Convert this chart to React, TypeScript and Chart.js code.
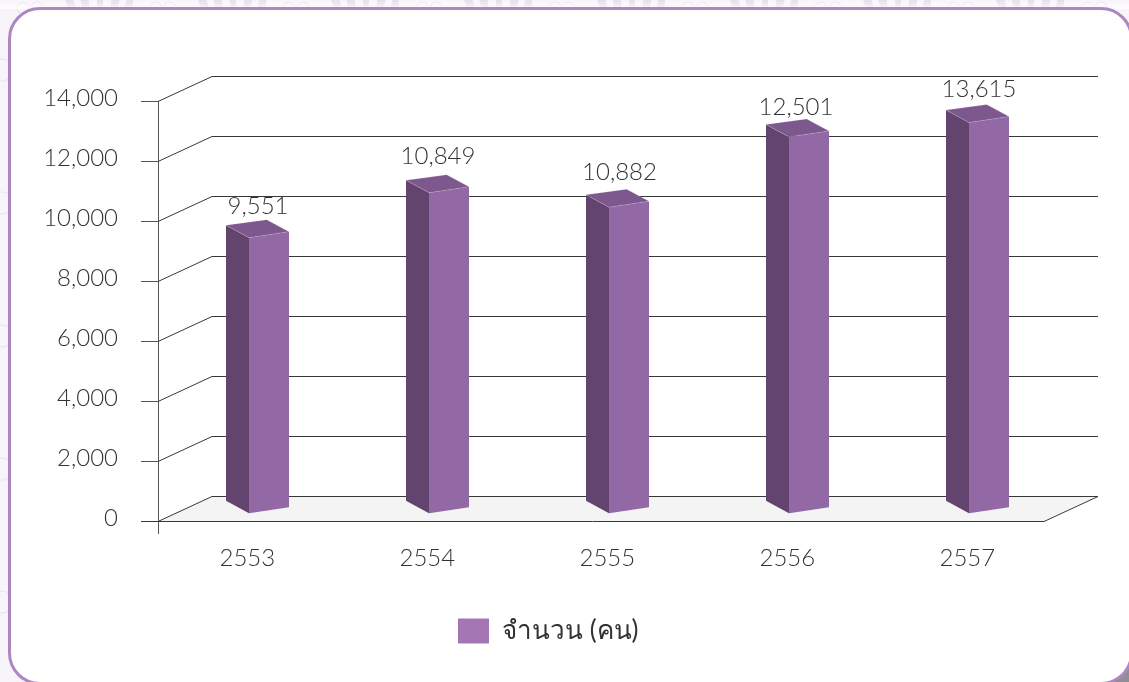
import React, { useEffect, useRef } from "react";
import { Chart, registerables } from "chart.js";

Chart.register(...registerables);

const years = ["2553", "2554", "2555", "2556", "2557"];
// Bar heights as drawn in the picture; they do not all agree with the printed labels.
const barHeights = [9585, 11145, 10640, 13080, 13580];
// Numbers as printed above the bars.
const printedLabels = ["9,551", "10,849", "10,882", "12,501", "13,615"];
const seriesName = "จำนวน (คน)";
const yTicks = [0, 2000, 4000, 6000, 8000, 10000, 12000, 14000];

const INK = "#333333";
const FONT = "Lato, 'Noto Sans', sans-serif";
const DEPTH_X = 54;
const DEPTH_Y = 25;
// Labels were placed by hand in the original: small per-label nudges from the bar's front corner.
const labelNudges = [[9, -31.5], [9, -36], [10.5, -35], [7, -30], [10, -33.5]];
const fmt = (v: number) => v.toLocaleString("en-US");

const poly = (ctx: CanvasRenderingContext2D, pts: number[][], fill: string, stroke?: string) => {
  ctx.beginPath();
  pts.forEach((p, i) => (i ? ctx.lineTo(p[0], p[1]) : ctx.moveTo(p[0], p[1])));
  ctx.closePath();
  ctx.fillStyle = fill;
  ctx.fill();
  if (stroke) {
    ctx.strokeStyle = stroke;
    ctx.lineWidth = 0.6;
    ctx.stroke();
  }
};

const frontCorner = (el: any) => ({
  x: el.x + 1,
  y: el.base - 7.3 - (el.base - el.y) * 0.96,
});

const scene = {
  id: "scene3d",
  afterLayout(chart: any) {
    const lg = chart.legend;
    const w = lg.right - lg.left;
    const h = lg.bottom - lg.top;
    lg.left = 448;
    lg.right = 448 + w;
    lg.top = 608;
    lg.bottom = 608 + h;
  },
  beforeDatasetsDraw(chart: any) {
    const { ctx } = chart;
    const y = chart.scales.y;
    const x0 = chart.chartArea.left;
    const x1 = chart.chartArea.right - 14;
    const base = y.getPixelForValue(0);
    ctx.save();
    poly(ctx, [[x0, base], [x0 + DEPTH_X, base - DEPTH_Y], [x1 + DEPTH_X, base - DEPTH_Y], [x1, base]], "#f4f4f4");
    ctx.strokeStyle = "#383838";
    ctx.lineWidth = 1;
    yTicks.forEach((v) => {
      const py = Math.round(y.getPixelForValue(v)) + 0.5;
      ctx.beginPath();
      ctx.moveTo(x0, py);
      ctx.lineTo(x0 + DEPTH_X, py - DEPTH_Y);
      ctx.lineTo(x1 + DEPTH_X, py - DEPTH_Y);
      if (v === 0) ctx.lineTo(x1, py);
      ctx.stroke();
    });
    ctx.beginPath();
    ctx.moveTo(x0 - 17, Math.round(base) + 0.5);
    ctx.lineTo(x1, Math.round(base) + 0.5);
    ctx.stroke();
    ctx.restore();
  },
  beforeDatasetDraw(chart: any, args: any) {
    const { ctx } = chart;
    const meta = chart.getDatasetMeta(args.index);
    ctx.save();
    meta.data.forEach((el: any) => {
      const f = frontCorner(el);
      const by = el.base - 7.3;
      const lx = el.x - 22;
      const rx = el.x + 41;
      const bx = el.x + 18.7;
      poly(ctx, [[lx, f.y - 12.5], [f.x, f.y], [f.x, by], [lx, by - 12.5]], "#62446e");
      poly(ctx, [[f.x, f.y], [rx, f.y - 6], [rx, by - 6], [f.x, by]], "#9268a5");
      poly(ctx, [[lx, f.y - 12.5], [bx, f.y - 18], [rx, f.y - 6], [f.x, f.y]], "#7d588e", "rgba(255,255,255,0.28)");
    });
    ctx.restore();
    return false;
  },
  afterDatasetsDraw(chart: any) {
    const { ctx } = chart;
    const meta = chart.getDatasetMeta(0);
    ctx.save();
    ctx.font = `300 24px ${FONT}`;
    ctx.fillStyle = INK;
    ctx.textAlign = "center";
    ctx.textBaseline = "middle";
    meta.data.forEach((el: any, i: number) => {
      const f = frontCorner(el);
      ctx.fillText(printedLabels[i], f.x + labelNudges[i][0], f.y + labelNudges[i][1]);
    });
    ctx.restore();
  },
};

function Backdrop() {
  const leaves = [-30, -15, 0, 15, 30];
  return (
    <svg width={1129} height={682} style={{ position: "absolute", left: 0, top: 0 }}>
      <defs>
        <pattern id="orn" x={0} y={0} width={133} height={133} patternUnits="userSpaceOnUse">
          <g transform="translate(100,0)" fill="#e7dded">
            {leaves.map((o, i) => (
              <ellipse key={o} cx={o} cy={2} rx={i === 2 ? 3 : 4} ry={12} transform={`rotate(${o * 0.7} ${o} 2)`} />
            ))}
          </g>
          <g fill="none" stroke="#ebe3f0" strokeWidth={1.2}>
            <circle cx={23} cy={8} r={6} />
            <circle cx={37} cy={8} r={6} />
            <circle cx={2} cy={70} r={11} />
          </g>
        </pattern>
        <linearGradient id="strip" x1="0" y1="0" x2="0" y2="1">
          <stop offset="0" stopColor="#ffffff" stopOpacity={0} />
          <stop offset="1" stopColor="#ffffff" stopOpacity={0.75} />
        </linearGradient>
      </defs>
      <rect width={1129} height={682} fill="#f8f5fa" />
      <rect width={1129} height={682} fill="url(#orn)" />
      <rect width={1129} height={9} fill="url(#strip)" />
      <rect x={1060} y={640} width={69} height={42} fill="#8f8f8f" />
    </svg>
  );
}

export default function App() {
  const ref = useRef<HTMLCanvasElement>(null);
  useEffect(() => {
    const chart = new Chart(ref.current!, {
      type: "bar",
      data: {
        labels: years,
        datasets: [{ label: seriesName, data: barHeights, backgroundColor: "#a576b4", borderWidth: 0, barThickness: 63 }],
      },
      options: {
        responsive: false,
        animation: false,
        layout: { padding: { left: 0, top: 101, right: 71, bottom: 0 } },
        plugins: {
          tooltip: { enabled: false },
          legend: {
            position: "chartArea",
            align: "start",
            labels: {
              boxWidth: 31,
              boxHeight: 25,
              padding: 10,
              color: INK,
              font: { family: FONT, size: 26, weight: "400" },
            },
          },
        },
        scales: {
          x: {
            afterFit: (s: any) => { s.height = 161; },
            border: { display: false },
            grid: {
              offset: true,
              drawOnChartArea: false,
              tickLength: 13,
              color: (c: any) => (c.index === 0 ? "#555555" : "transparent"),
            },
            ticks: { color: INK, padding: 10, labelOffset: -0.7, font: { family: FONT, size: 24, weight: "300" } },
          },
          y: {
            min: 0,
            max: 14000,
            afterFit: (s: any) => { s.width = 158; },
            border: { display: true, color: "#555555" },
            grid: { drawOnChartArea: false, tickLength: 17, color: "#555555" },
            ticks: {
              stepSize: 2000,
              color: INK,
              padding: 23,
              labelOffset: -2.5,
              font: { family: FONT, size: 24, weight: "300" },
              callback: (v: any) => fmt(Number(v)),
            },
          },
        },
      } as any,
      plugins: [scene],
    });
    return () => chart.destroy();
  }, []);

  return (
    <div style={{ position: "fixed", left: 0, top: 0, width: 1129, height: 682, overflow: "hidden" }}>
      <Backdrop />
      <div
        style={{
          position: "absolute",
          left: 8,
          top: 7,
          width: 1125,
          height: 678,
          boxSizing: "border-box",
          background: "#ffffff",
          border: "3px solid #ad86c2",
          borderRadius: 32,
        }}
      />
      <canvas ref={ref} width={1129} height={682} style={{ position: "absolute", left: 0, top: 0, display: "block" }} />
    </div>
  );
}
